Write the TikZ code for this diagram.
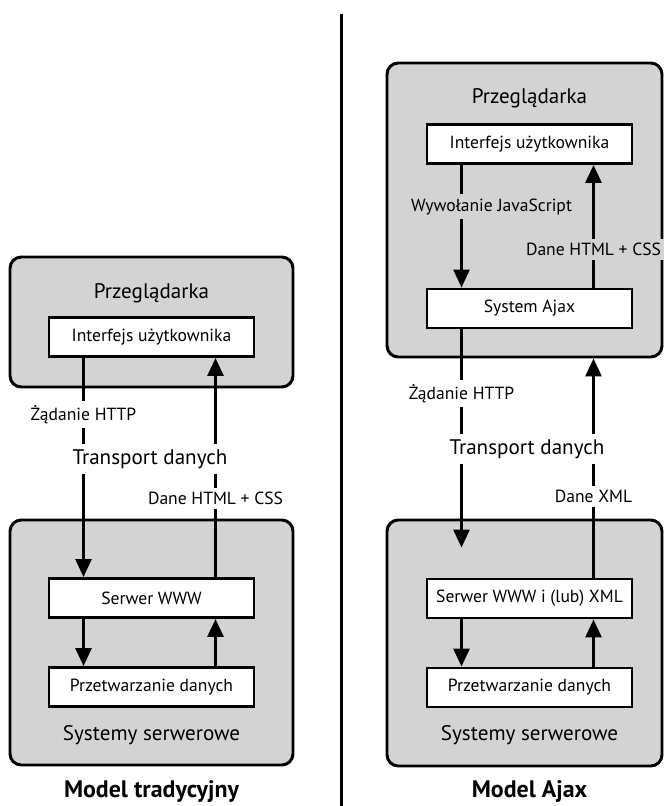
\documentclass[tikz,border=0pt]{standalone}
\usepackage{fontspec}
\setmainfont{PT Sans}
\usepackage{xcolor}
\usepackage{tikz}
\usetikzlibrary{arrows.meta,positioning}
\definecolor{panelgray}{RGB}{211,211,211}

\begin{document}
\begin{tikzpicture}[
  panel/.style={draw, line width=2.1pt, rounded corners=8pt, fill=panelgray},
  unit/.style={draw, line width=2.1pt, fill=white, minimum width=5.125cm,
               minimum height=0.975cm, inner sep=0pt,
               font=\fontsize{12.5}{15}\selectfont},
  head/.style={font=\fontsize{15}{18}\selectfont},
  tag/.style={fill=white, inner sep=3pt, font=\fontsize{12.5}{15}\selectfont},
  title/.style={font=\bfseries\fontsize{17}{20}\selectfont},
  flow/.style={line width=2.1pt, -{Triangle[length=0.45cm, width=0.4cm]}},
  on grid,
]
  \useasboundingbox (0,0) rectangle (16.6,-20.15);

  % left half: traditional model
  \node[panel, minimum width=7.075cm, minimum height=3.25cm] (browser1) at (3.7875,-8.05) {};
  \node[panel, minimum width=7.075cm, minimum height=6.125cm] (server1) at (3.7875,-16.0625) {};
  \node[head] (head1) at (3.7875,-7.325) {Przeglądarka};
  \node[unit, below=1.1cm of head1] (ui1) {Interfejs użytkownika};
  \node[unit, below=6.525cm of ui1] (www1) {Serwer WWW};
  \node[unit, below=2.225cm of www1] (proc1) {Przetwarzanie danych};
  \node[head, below=1.2cm of proc1] (sys1) {Systemy serwerowe};
  \node[title, below=1.4cm of sys1] (model1) {Model tradycyjny};

  % right half: Ajax model
  \node[panel, minimum width=6.875cm, minimum height=7.35cm] (browser2) at (13.1125,-5.25) {};
  \node[panel, minimum width=6.875cm, minimum height=6.15cm] (server2) at (13.1125,-16.075) {};
  \node[head] (head2) at (13.2375,-2.45) {Przeglądarka};
  \node[unit, below=1.15cm of head2] (ui2) {Interfejs użytkownika};
  \node[unit, below=4.1125cm of ui2] (ajax) {System Ajax};
  \node[unit, below=7.25cm of ajax] (srv2) {Serwer WWW i (lub) XML};
  \node[unit, below=2.225cm of srv2] (proc2) {Przetwarzanie danych};
  \node[head, below=1.2cm of proc2] (sys2) {Systemy serwerowe};
  \node[title, below=1.4cm of sys2] (model2) {Model Ajax};

  % divider
  \draw[line width=2.1pt] (8.5375,-0.35) -- (8.5375,-20.15);

  % traditional flows
  \draw[flow] ([xshift=-1.7cm]ui1.south) -- node[tag, pos=0.259] {Żądanie HTTP} ([xshift=-1.7cm]www1.north);
  \draw[flow] ([xshift=1.6cm]www1.north) -- node[tag, pos=0.358] {Dane HTML + CSS} ([xshift=1.6cm]ui1.south);
  \draw[flow] ([xshift=-1.7cm]www1.south) -- ([xshift=-1.7cm]proc1.north);
  \draw[flow] ([xshift=1.6cm]proc1.north) -- ([xshift=1.6cm]www1.south);

  % Ajax flows
  \coordinate (req2) at ([xshift=-1.7cm,yshift=0.75cm]srv2.north);
  \coordinate (xmlbot) at ([xshift=1.6cm]srv2.north);
  \draw[flow] ([xshift=-1.7cm]ui2.south) -- node[tag, fill=panelgray, pos=0.34, xshift=0.75cm] {Wywołanie JavaScript} ([xshift=-1.7cm]ajax.north);
  \draw[flow] ([xshift=1.6cm]ajax.north) -- node[tag, fill=panelgray, pos=0.308] {Dane HTML + CSS} ([xshift=1.6cm]ui2.south);
  \draw[flow] ([xshift=-1.7cm]ajax.south) -- node[tag, pos=0.295] {Żądanie HTTP} (req2);
  \draw[flow] (xmlbot) -- node[tag, pos=0.372] {Dane XML} (xmlbot |- browser2.south);
  \draw[flow] ([xshift=-1.7cm]srv2.south) -- ([xshift=-1.7cm]proc2.north);
  \draw[flow] ([xshift=1.6cm]proc2.north) -- ([xshift=1.6cm]srv2.south);

  % transport labels
  \node[tag, head, inner sep=4pt] (transport1) at (3.75,-11.475) {Transport danych};
  \node[tag, head, inner sep=4pt] (transport2) at (13.175,-11.225) {Transport danych};
\end{tikzpicture}
\end{document}
